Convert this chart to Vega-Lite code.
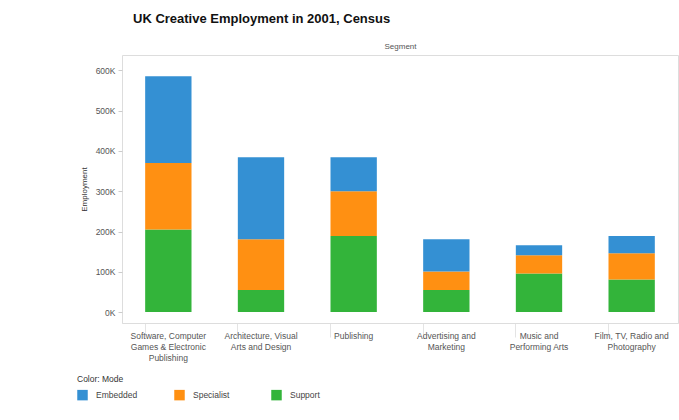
{
  "$schema": "https://vega.github.io/schema/vega-lite/v6.json",
  "width": 556,
  "height": 268,
  "autosize": {"type": "none"},
  "padding": {"left": 122, "top": 55, "right": 1, "bottom": 97},
  "background": "white",
  "config": {
    "font": "Liberation Sans",
    "view": {"stroke": "#dddddd"},
    "axis": {"labelFont": "Liberation Sans", "titleFont": "Liberation Sans"}
  },
  "title": {
    "text": "UK Creative Employment in 2001, Census",
    "anchor": "start",
    "frame": "group",
    "dx": 11,
    "offset": 16,
    "fontSize": 13,
    "fontWeight": "bold",
    "color": "#111111",
    "font": "Liberation Sans"
  },
  "data": {
    "values": [
      {"Segment": "Software, Computer Games & Electronic Publishing", "Mode": "Support", "Employment": 205000},
      {"Segment": "Software, Computer Games & Electronic Publishing", "Mode": "Specialist", "Employment": 165000},
      {"Segment": "Software, Computer Games & Electronic Publishing", "Mode": "Embedded", "Employment": 215000},
      {"Segment": "Architecture, Visual Arts and Design", "Mode": "Support", "Employment": 55000},
      {"Segment": "Architecture, Visual Arts and Design", "Mode": "Specialist", "Employment": 126000},
      {"Segment": "Architecture, Visual Arts and Design", "Mode": "Embedded", "Employment": 203000},
      {"Segment": "Publishing", "Mode": "Support", "Employment": 189000},
      {"Segment": "Publishing", "Mode": "Specialist", "Employment": 111000},
      {"Segment": "Publishing", "Mode": "Embedded", "Employment": 84000},
      {"Segment": "Advertising and Marketing", "Mode": "Support", "Employment": 55000},
      {"Segment": "Advertising and Marketing", "Mode": "Specialist", "Employment": 46000},
      {"Segment": "Advertising and Marketing", "Mode": "Embedded", "Employment": 80000},
      {"Segment": "Music and Performing Arts", "Mode": "Support", "Employment": 96000},
      {"Segment": "Music and Performing Arts", "Mode": "Specialist", "Employment": 45000},
      {"Segment": "Music and Performing Arts", "Mode": "Embedded", "Employment": 25000},
      {"Segment": "Film, TV, Radio and Photography", "Mode": "Support", "Employment": 81000},
      {"Segment": "Film, TV, Radio and Photography", "Mode": "Specialist", "Employment": 65000},
      {"Segment": "Film, TV, Radio and Photography", "Mode": "Embedded", "Employment": 43000}
    ]
  },
  "layer": [
    {
      "mark": {"type": "bar"},
      "encoding": {
        "x": {
          "field": "Segment",
          "type": "nominal",
          "sort": null,
          "scale": {"paddingInner": 0.5, "paddingOuter": 0.25},
          "axis": {
            "title": null,
            "labelAngle": 0,
            "labelBaseline": "top",
            "labelPadding": -6,
            "labelFontSize": 8.5,
            "labelColor": "#555555",
            "labelLineHeight": 11,
            "labelLimit": 0,
            "bandPosition": 0,
            "ticks": true,
            "tickSize": 14,
            "tickColor": "#e4e4e4",
            "domainColor": "#dddddd",
            "labelExpr": "datum.value == 'Software, Computer Games & Electronic Publishing' ? ['Software, Computer', 'Games & Electronic', 'Publishing'] : datum.value == 'Architecture, Visual Arts and Design' ? ['Architecture, Visual', 'Arts and Design'] : datum.value == 'Advertising and Marketing' ? ['Advertising and', 'Marketing'] : datum.value == 'Music and Performing Arts' ? ['Music and', 'Performing Arts'] : datum.value == 'Film, TV, Radio and Photography' ? ['Film, TV, Radio and', 'Photography'] : datum.value"
          }
        },
        "y": {
          "field": "Employment",
          "type": "quantitative",
          "aggregate": "sum",
          "stack": "zero",
          "scale": {"domain": [-27000, 638000], "nice": false, "zero": false},
          "axis": {
            "title": "Employment",
            "titleFontSize": 8,
            "titleFontWeight": "normal",
            "titleColor": "#333333",
            "titlePadding": 7,
            "values": [0, 100000, 200000, 300000, 400000, 500000, 600000],
            "labelExpr": "(datum.value / 1000) + 'K'",
            "labelFontSize": 8.5,
            "labelColor": "#555555",
            "tickSize": 4,
            "tickColor": "#cccccc",
            "labelPadding": 3,
            "grid": false,
            "domain": false
          }
        },
        "color": {
          "field": "Mode",
          "type": "nominal",
          "scale": {"domain": ["Embedded", "Specialist", "Support"], "range": ["#3490d3", "#ff9012", "#33b43a"]},
          "legend": {
            "title": "Color: Mode",
            "orient": "none",
            "legendX": -45,
            "legendY": 320,
            "direction": "horizontal",
            "columns": 3,
            "gridAlign": "all",
            "columnPadding": 36,
            "symbolType": "square",
            "symbolSize": 110,
            "symbolStrokeWidth": 0,
            "titleFontSize": 8.5,
            "titleFontWeight": "normal",
            "titleColor": "#333333",
            "titlePadding": 6,
            "labelFontSize": 8.5,
            "labelColor": "#444444",
            "labelOffset": 8
          }
        },
        "order": {"field": "Mode", "sort": "descending"}
      }
    },
    {
      "mark": {"type": "text", "text": ""},
      "encoding": {
        "x": {
          "field": "Segment",
          "type": "nominal",
          "sort": null,
          "axis": {
            "orient": "top",
            "title": "Segment",
            "titleFontSize": 8,
            "titleFontWeight": "normal",
            "titleColor": "#555555",
            "titlePadding": 5,
            "labels": false,
            "ticks": false,
            "domain": false
          }
        }
      }
    }
  ],
  "resolve": {"axis": {"x": "independent"}}
}
